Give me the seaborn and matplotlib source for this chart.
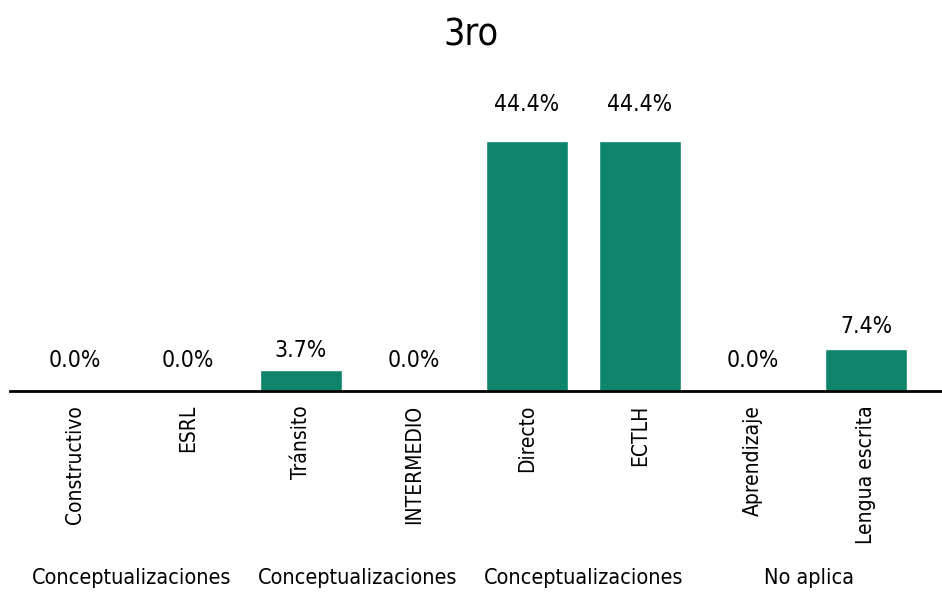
import matplotlib
matplotlib.use("Agg")
import matplotlib.pyplot as plt
import seaborn as sns
import pandas as pd

categorias = ["Constructivo", "ESRL", "Tránsito", "INTERMEDIO",
              "Directo", "ECTLH", "Aprendizaje", "Lengua escrita"]
valores = [0.0, 0.0, 3.7, 0.0, 44.4, 44.4, 0.0, 7.4]
grupos = ["Conceptualizaciones", "Conceptualizaciones",
          "Conceptualizaciones", "No aplica"]
titulo = "3ro"

# vertical distance (points) of each value label above its bar
desplaz = [22, 22, 14, 22, 26.5, 26.5, 22, 16.5]

sns.set_style("white")
plt.rcParams['font.family'] = ['DejaVu Sans']
plt.rcParams['font.stretch'] = 'condensed'
plt.rcParams['text.color'] = 'black'
plt.rcParams['xtick.color'] = 'black'

df = pd.DataFrame({"cat": categorias, "val": valores})

fig = plt.figure(figsize=(9.42, 5.95), dpi=100)
ax = fig.add_axes([10 / 942, 204 / 595, 932 / 942, 291 / 595])
sns.barplot(data=df, x="cat", y="val", color="#0e846a", saturation=1,
            width=0.72, ax=ax)
ax.set_xlim(-0.575, 7.673)
ax.set_ylim(0, 44.4 * 291 / 250)

for i, v in enumerate(valores):
    ax.annotate(f"{v:.1f}%", (i, v), xytext=(0, desplaz[i]),
                textcoords="offset points", ha="center", va="center",
                fontsize=16.5)

ax.set_xticks(range(len(categorias)))
ax.set_xticklabels(categorias, rotation=90, fontsize=15, va="top")
ax.tick_params(axis="x", length=0, pad=10)
ax.set_yticks([])
ax.set_xlabel("")
ax.set_ylabel("")
for s in ["top", "right", "left"]:
    ax.spines[s].set_visible(False)
ax.spines["bottom"].set_color("black")
ax.spines["bottom"].set_linewidth(2)

# group labels under each pair of bars
ytxt = -(578 - 391) / 291
for j, g in enumerate(grupos):
    ax.text(2 * j + 0.5, ytxt, g, transform=ax.get_xaxis_transform(),
            ha="center", va="center", fontsize=15.5)

fig.text(0.5, 1 - 35 / 595, titulo, ha="center", va="center", fontsize=27)

fig.savefig("out.png", dpi=100)
